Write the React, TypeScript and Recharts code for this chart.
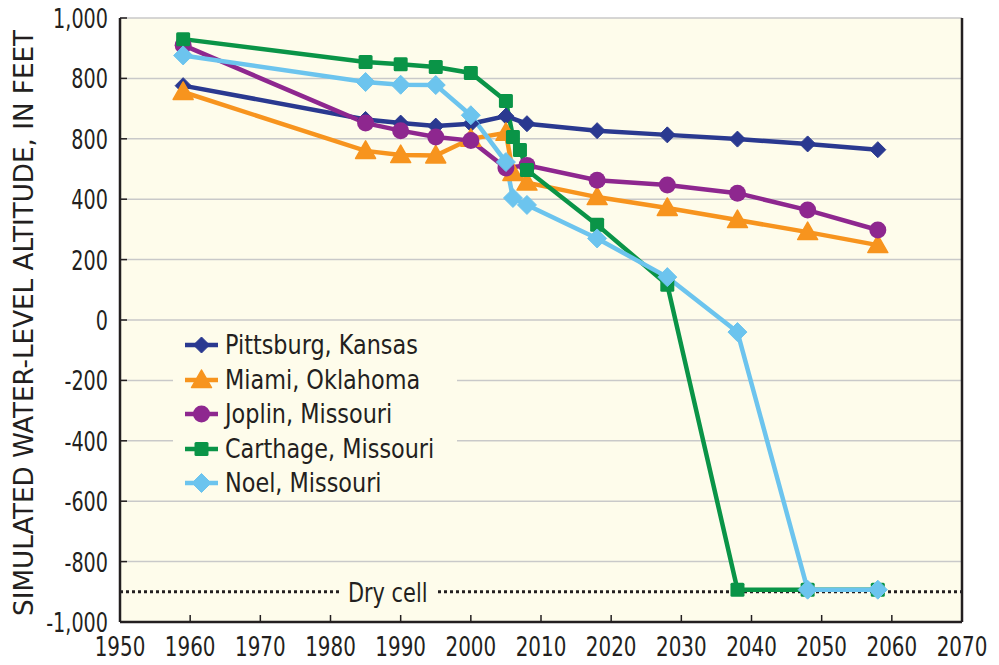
import React from 'react';
import {
  LineChart,
  Line,
  XAxis,
  YAxis,
  CartesianGrid,
  ReferenceLine,
  Legend,
} from 'recharts';

// simulated water-level altitude (feet) by city
const pittsburgYears = [1959, 1985, 1990, 1995, 2000, 2005, 2008, 2018, 2028, 2038, 2048, 2058];
const pittsburgValues = [776, 664, 652, 642, 650, 675, 650, 627, 613, 599, 583, 564];

const miamiYears = [1959, 1985, 1990, 1995, 2000, 2005, 2006, 2008, 2018, 2028, 2038, 2048, 2058];
const miamiValues = [755, 560, 546, 545, 600, 620, 487, 455, 407, 371, 331, 291, 248];

const joplinYears = [1959, 1985, 1990, 1995, 2000, 2005, 2008, 2018, 2028, 2038, 2048, 2058];
const joplinValues = [910, 652, 627, 606, 594, 503, 512, 463, 447, 420, 364, 298];

const carthageYears = [1959, 1985, 1990, 1995, 2000, 2005, 2006, 2007, 2008, 2018, 2028, 2038, 2048, 2058];
const carthageValues = [930, 854, 847, 838, 818, 725, 606, 563, 497, 315, 117, -893, -893, -893];

const noelYears = [1959, 1985, 1990, 1995, 2000, 2005, 2006, 2008, 2018, 2028, 2038, 2048, 2058];
const noelValues = [876, 788, 779, 778, 678, 523, 404, 381, 270, 142, -40, -893, -893];

const dryCell = -900;

const xTicks = [1950, 1960, 1970, 1980, 1990, 2000, 2010, 2020, 2030, 2040, 2050, 2060, 2070];
const yTicks = [-1000, -800, -600, -400, -200, 0, 200, 400, 600, 800, 1000];
// labels exactly as printed on the figure
const yTickLabels = ['-1,000', '-800', '-600', '-400', '-200', '0', '200', '400', '800', '800', '1,000'];

const INK = '#231F20';
const CREAM = '#FEFCEB';
const FONT = "'Liberation Sans Narrow', 'DejaVu Sans Condensed', sans-serif";

type Shape = 'diamond' | 'triangle' | 'circle' | 'square';

const zip = (years: number[], values: number[]) =>
  years.map((year, i) => ({ year, v: values[i] }));

const series = [
  { name: 'Pittsburg, Kansas', color: '#2A3990', shape: 'diamond' as Shape, size: 8, data: zip(pittsburgYears, pittsburgValues) },
  { name: 'Miami, Oklahoma', color: '#F7941E', shape: 'triangle' as Shape, size: 10, data: zip(miamiYears, miamiValues) },
  { name: 'Joplin, Missouri', color: '#8E278F', shape: 'circle' as Shape, size: 8.5, data: zip(joplinYears, joplinValues) },
  { name: 'Carthage, Missouri', color: '#0A9447', shape: 'square' as Shape, size: 7, data: zip(carthageYears, carthageValues) },
  { name: 'Noel, Missouri', color: '#6CC4EE', shape: 'diamond' as Shape, size: 9.5, data: zip(noelYears, noelValues) },
];

function marker(shape: Shape, color: string, s: number, cx: number, cy: number, key?: string) {
  if (shape === 'diamond')
    return <path key={key} d={`M${cx},${cy - s}L${cx + s},${cy}L${cx},${cy + s}L${cx - s},${cy}Z`} fill={color} stroke={color} strokeLinejoin="round" strokeWidth={1} />;
  if (shape === 'triangle')
    return <path key={key} d={`M${cx},${cy - s}L${cx + s},${cy + s * 0.75}L${cx - s},${cy + s * 0.75}Z`} fill={color} stroke={color} strokeLinejoin="round" strokeWidth={1.5} />;
  if (shape === 'circle') return <circle key={key} cx={cx} cy={cy} r={s} fill={color} />;
  return <rect key={key} x={cx - s} y={cy - s} width={s * 2} height={s * 2} rx={1.5} fill={color} />;
}

// condensed-looking svg text
const NarrowText = ({ x, y, anchor, sx, size, children }: any) => (
  <text
    transform={`translate(${x} ${y}) scale(${sx} 1)`}
    textAnchor={anchor}
    fill={INK}
    fontSize={size}
    fontFamily={FONT}
  >
    {children}
  </text>
);

const XTick = ({ x, y, payload }: any) => (
  <g>
    <line x1={x} x2={x} y1={y} y2={y - 7} stroke={INK} strokeWidth={1.5} />
    <NarrowText x={x} y={y + 34} anchor="middle" sx={0.82} size={27}>
      {payload.value}
    </NarrowText>
  </g>
);

const YTick = ({ x, y, payload }: any) => (
  <g>
    <line x1={x} x2={x + 7} y1={y} y2={y} stroke={INK} strokeWidth={1.5} />
    <NarrowText x={x - 12} y={y + 10} anchor="end" sx={0.79} size={27}>
      {yTickLabels[yTicks.indexOf(payload.value)]}
    </NarrowText>
  </g>
);

const RightTick = ({ x, y }: any) => (
  <line x1={x} x2={x - 7} y1={y} y2={y} stroke={INK} strokeWidth={1.5} />
);

const DryCellLabel = ({ viewBox }: any) => {
  const cx = viewBox.x + viewBox.width * 0.318;
  const cy = viewBox.y;
  return (
    <g>
      <rect x={cx - 48} y={cy - 16} width={96} height={32} fill={CREAM} />
      <NarrowText x={cx} y={cy + 10} anchor="middle" sx={0.86} size={27}>
        Dry cell
      </NarrowText>
    </g>
  );
};

const YTitle = () => (
  <text
    transform="translate(24 323) rotate(-90) scale(1.12 1)"
    textAnchor="middle"
    dominantBaseline="central"
    fill={INK}
    fontSize={26}
    fontFamily={FONT}
  >
    SIMULATED WATER-LEVEL ALTITUDE, IN FEET
  </text>
);

const LegendBox = () => (
  <div style={{ background: CREAM, width: 284, height: 176, paddingTop: 4, boxSizing: 'border-box' }}>
    {series.map((s) => (
      <div key={s.name} style={{ display: 'flex', alignItems: 'center', height: 34.5 }}>
        <svg width={52} height={34} style={{ flex: 'none' }}>
          <line x1={12} x2={45} y1={17} y2={17} stroke={s.color} strokeWidth={4.5} />
          {marker(s.shape, s.color, s.size, 28.5, 17)}
        </svg>
        <span
          style={{
            fontFamily: FONT,
            fontSize: 27,
            color: INK,
            lineHeight: '34px',
            whiteSpace: 'nowrap',
            display: 'inline-block',
            transform: 'scaleX(0.92)',
            transformOrigin: 'left center',
          }}
        >
          {s.name}
        </span>
      </div>
    ))}
  </div>
);

export default function App() {
  return (
    <div style={{ position: 'absolute', left: 0, top: 0, width: 999, height: 665, background: '#fff' }}>
      <LineChart width={999} height={665} margin={{ top: 18, right: 0, bottom: 0, left: 10 }}>
        <CartesianGrid vertical={false} stroke="#C9C9C9" strokeWidth={1.5} fill={CREAM} fillOpacity={1} />
        <XAxis
          dataKey="year"
          type="number"
          domain={[1950, 2070]}
          ticks={xTicks}
          interval={0}
          allowDataOverflow
          height={43}
          tickSize={0}
          tickMargin={0}
          tickLine={false}
          axisLine={{ stroke: INK, strokeWidth: 2.5 }}
          tick={<XTick />}
        />
        <XAxis
          xAxisId="top"
          orientation="top"
          type="number"
          domain={[1950, 2070]}
          height={0}
          tick={false}
          tickLine={false}
          axisLine={{ stroke: INK, strokeWidth: 2 }}
        />
        <YAxis
          type="number"
          domain={[-1000, 1000]}
          ticks={yTicks}
          interval={0}
          width={110}
          tickSize={0}
          tickMargin={0}
          tickLine={false}
          axisLine={{ stroke: INK, strokeWidth: 2.5 }}
          tick={<YTick />}
          label={{ content: () => <YTitle /> }}
        />
        <YAxis
          yAxisId="r"
          orientation="right"
          type="number"
          domain={[-1000, 1000]}
          ticks={yTicks}
          interval={0}
          width={37}
          tickSize={0}
          tickMargin={0}
          tickLine={false}
          axisLine={{ stroke: INK, strokeWidth: 2.5 }}
          tick={<RightTick />}
        />
        <ReferenceLine
          y={dryCell}
          stroke={INK}
          strokeWidth={3}
          strokeDasharray="3 3"
          label={<DryCellLabel />}
        />
        {series.map((s) => (
          <Line
            key={s.name}
            data={s.data}
            dataKey="v"
            name={s.name}
            type="linear"
            stroke={s.color}
            strokeWidth={4.5}
            activeDot={false}
            isAnimationActive={false}
            dot={(p: any) => marker(s.shape, s.color, s.size, p.cx, p.cy, `${s.name}-${p.index}`)}
          />
        ))}
        <Legend
          layout="horizontal"
          verticalAlign="middle"
          align="center"
          content={<LegendBox />}
          wrapperStyle={{ position: 'absolute', left: 173, top: 324, width: 284, height: 176 }}
        />
      </LineChart>
    </div>
  );
}
